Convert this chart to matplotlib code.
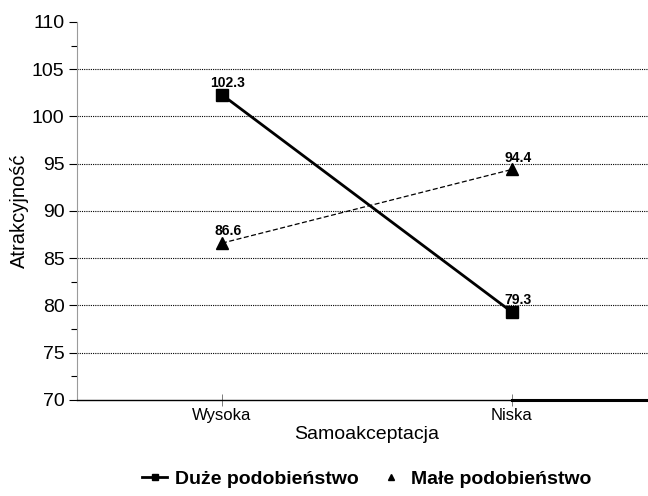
import matplotlib.pyplot as plt

categories = ["Wysoka", "Niska"]
duze = [102.3, 79.3]
male = [86.6, 94.4]
series_names = ["Duże podobieństwo", "Małe podobieństwo"]
y_ticks = [70, 75, 80, 85, 90, 95, 100, 105, 110]

plt.rcParams['font.family'] = ['Liberation Sans', 'DejaVu Sans']

fig = plt.figure(figsize=(6.48, 4.96), dpi=100)
# axes runs a bit past the right edge of the figure, like the original
ax = fig.add_axes([77 / 648, 1 - 400 / 496, 580 / 648, 378 / 496])

x = [0.5, 1.5]
l1, = ax.plot(x, duze, color='black', lw=2, marker='s', ms=8, label=series_names[0], zorder=3)
l2, = ax.plot(x, male, color='black', lw=0.9, ls=(0, (4, 2)), marker='^', ms=8,
              label=series_names[1], zorder=3)

# data labels, all nudged right and sitting on top of the marker
for xi, vals in ((x[0], (duze[0], male[0])), (x[1], (duze[1], male[1]))):
    for v in vals:
        ax.annotate(f"{v}", (xi, v), xytext=(4.3, 3.5), textcoords='offset points',
                    ha='center', va='bottom', fontsize=10, fontweight='bold',
                    fontstretch='condensed', zorder=4)

ax.set_xlim(0, 2)
ax.set_ylim(70, 110)
ax.set_xticks(x)
ax.set_xticklabels(categories, fontsize=12)
ax.set_yticks(y_ticks)
ax.set_yticklabels([str(v) for v in y_ticks], fontsize=14)
ax.set_yticks([72.5, 77.5, 82.5, 107.5], minor=True)
ax.tick_params(axis='x', direction='inout', length=8, width=0.6, colors='#666666',
               labelcolor='black', pad=2)
ax.tick_params(axis='y', which='major', direction='out', length=6, width=0.8, pad=3)
ax.tick_params(axis='y', which='minor', direction='out', length=4, width=0.8)

for v in y_ticks[1:-1]:
    ax.axhline(v, color='black', lw=0.8, ls=(0, (1, 1)), zorder=1)

ax.spines['top'].set_visible(False)
ax.spines['right'].set_visible(False)
ax.spines['left'].set_color('#9a9a9a')
ax.spines['bottom'].set_color('black')
ax.spines['bottom'].set_linewidth(1.0)
ax.axhline(70, xmin=0.75, xmax=1, color='black', lw=2.2, zorder=2, clip_on=False)

ax.set_xlabel("Samoakceptacja", fontsize=14, labelpad=2)
ax.set_ylabel("Atrakcyjność", fontsize=14.5, labelpad=2)

fig.legend(handles=[l1, l2], loc='center', bbox_to_anchor=(367 / 648, 1 - 479 / 496),
           ncol=2, frameon=False, prop={'weight': 'bold', 'size': 14},
           handlelength=1.3, handletextpad=0.4, columnspacing=1.0, markerscale=0.6)
l2_leg = fig.legends[0].get_lines()[1]
l2_leg.set_linestyle('none')

fig.savefig("out.png", dpi=100)
